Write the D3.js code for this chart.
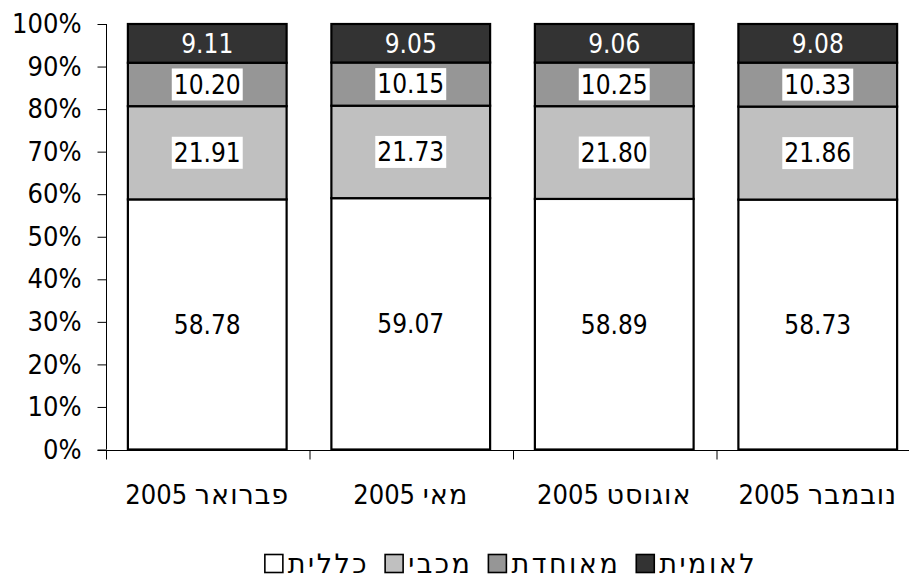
<!DOCTYPE html>
<html>
<head>
<meta charset="utf-8">
<script src="https://cdn.jsdelivr.net/npm/d3@7"></script>
<style>
  html, body { margin: 0; padding: 0; background: #fff; }
  svg { display: block; }
  text { font-family: "DejaVu Sans Condensed", "DejaVu Sans", sans-serif; }
  .heb { font-family: "DejaVu Sans", sans-serif; }
</style>
</head>
<body>
<svg id="chart" width="909" height="579"></svg>
<script>
// ---- data ----
const categories = ["פברואר 2005", "מאי 2005", "אוגוסט 2005", "נובמבר 2005"];
const seriesNames = ["כללית", "מכבי", "מאוחדת", "לאומית"];
const clalit   = [58.78, 59.07, 58.89, 58.73];
const maccabi  = [21.91, 21.73, 21.80, 21.86];
const meuhedet = [10.20, 10.15, 10.25, 10.33];
const leumit   = [9.11, 9.05, 9.06, 9.08];
const yTicks = [0, 0.1, 0.2, 0.3, 0.4, 0.5, 0.6, 0.7, 0.8, 0.9, 1.0];

const seriesValues = [clalit, maccabi, meuhedet, leumit];
const colors = ["#ffffff", "#c0c0c0", "#969696", "#333333"];
const labelColors = ["#000", "#000", "#000", "#fff"];
const labelBoxes = [true, true, true, false];

const svg = d3.select("#chart");
const FS = 26, FT = 27, FC = 27;

const x = d3.scaleBand().domain(categories).range([105.5, 919.5])
  .paddingInner(0.22).paddingOuter(0.11);
const y = d3.scaleLinear().domain([0, 1]).range([449.5, 24]);

// stack data
const table = categories.map((c, i) => {
  const o = { cat: c };
  seriesNames.forEach((s, j) => o[s] = seriesValues[j][i]);
  return o;
});
const stack = d3.stack().keys(seriesNames).offset(d3.stackOffsetExpand);
const stacked = stack(table);

// y axis
const yAxis = d3.axisLeft(y).tickValues(yTicks).tickFormat(d3.format(".0%"))
  .tickSize(9).tickPadding(16);
const gy = svg.append("g").attr("transform", "translate(106.5,0)").call(yAxis);
gy.select(".domain").attr("d", "M0," + y(1) + "V" + y(0)).attr("stroke", "#000");
gy.selectAll(".tick line").attr("stroke", "#000");
gy.selectAll("text").attr("font-size", FT).attr("fill", "#000")
  .attr("font-family", "'DejaVu Sans Condensed', 'DejaVu Sans', sans-serif");

// x baseline and boundary ticks
const xb = d3.scaleLinear().domain([0, 4]).range([105.5, 919.5]);
const gxb = svg.append("g").attr("transform", "translate(0.5," + Math.round(y(0)) + ".5)")
  .call(d3.axisBottom(xb).tickValues([0, 1, 2, 3, 4]).tickFormat("").tickSize(9));
gxb.select(".domain").attr("d", "M97,0H909").attr("stroke", "#000");
gxb.selectAll(".tick line").attr("stroke", "#000");

// helper: mixed Hebrew / digits text
function fillMixed(sel, str) {
  sel.text(null);
  const m = str.match(/^(\S+)(\s+\d+)?$/);
  sel.append("tspan").attr("class", "heb").attr("letter-spacing", 1).text(m[1]);
  if (m[2]) sel.append("tspan").text(m[2]);
}

// category labels
const gx = svg.append("g").attr("transform", "translate(0," + y(0) + ")")
  .call(d3.axisBottom(x).tickSize(0).tickPadding(0));
gx.select(".domain").remove();
gx.selectAll("text").attr("font-size", FC).attr("fill", "#000")
  .attr("dy", null).attr("y", 54.5)
  .each(function (d) { fillMixed(d3.select(this), d); });

// bars
const layers = svg.append("g").selectAll("g").data(stacked).join("g")
  .attr("fill", (d, i) => colors[i]);
layers.selectAll("rect").data(d => d).join("rect")
  .attr("x", d => x(d.data.cat))
  .attr("width", x.bandwidth())
  .attr("y", d => y(d[1]))
  .attr("height", d => y(d[0]) - y(d[1]))
  .attr("stroke", "#000").attr("stroke-width", 2.2);

// labels
stacked.forEach((layer, i) => {
  layer.forEach((d, k) => {
    const cx = x(d.data.cat) + x.bandwidth() / 2;
    const cy = (y(d[0]) + y(d[1])) / 2;
    const g = svg.append("g");
    const t = g.append("text")
      .attr("x", cx).attr("y", cy).attr("dy", "0.36em")
      .attr("text-anchor", "middle").attr("font-size", FS)
      .attr("fill", labelColors[i])
      .text(seriesValues[i][k].toFixed(2));
    if (labelBoxes[i]) {
      const bb = t.node().getBBox();
      g.insert("rect", "text")
        .attr("x", bb.x - 2).attr("y", cy - 16)
        .attr("width", bb.width + 4).attr("height", 32)
        .attr("fill", "#fff");
    }
  });
});

// legend
const lg = svg.append("g");
const sq = 18, gapIn = 5, gapOut = 16;
let cursor = 0;
seriesNames.forEach((s, i) => {
  const it = lg.append("g");
  it.append("rect").attr("x", cursor).attr("y", 554.5).attr("width", sq).attr("height", sq)
    .attr("fill", colors[i]).attr("stroke", "#000").attr("stroke-width", 1.6);
  const t = it.append("text").attr("class", "heb").attr("y", 572.5)
    .attr("font-size", FC).attr("letter-spacing", 2.5).attr("fill", "#000")
    .attr("text-anchor", "middle").text(s);
  const w = t.node().getBBox().width;
  t.attr("x", cursor + sq + gapIn + w / 2);
  cursor += sq + gapIn + w + gapOut;
});
const totalW = cursor - gapOut;
lg.attr("transform", "translate(" + (511 - totalW / 2) + ",0)");
</script>
</body>
</html>
